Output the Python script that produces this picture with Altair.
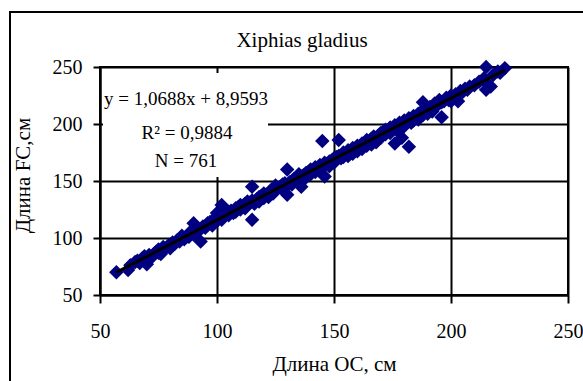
import altair as alt
import pandas as pd

# Swordfish body lengths: orbit-caudal (OC) vs fork length (FC), cm
oc = [
    57, 62, 63, 65, 66, 67, 68, 69, 70, 70,
    71, 72, 73, 74, 75, 75, 76, 77, 78, 79,
    80, 80, 81, 82, 83, 84, 85, 85, 86, 87,
    88, 88, 89, 90, 90, 91, 92, 93, 93, 94,
    95, 96, 96, 97, 98, 99, 100, 100, 101, 102,
    102, 103, 104, 105, 105, 106, 107, 108, 108, 109,
    110, 110, 111, 112, 112, 113, 114, 115, 115, 115,
    116, 117, 118, 118, 119, 120, 120, 121, 122, 122,
    123, 124, 124, 125, 125, 126, 127, 128, 128, 129,
    130, 130, 130, 131, 132, 132, 133, 134, 135, 135,
    136, 136, 137, 138, 138, 139, 140, 140, 141, 142,
    142, 143, 144, 144, 145, 145, 146, 146, 147, 148,
    148, 149, 150, 150, 151, 152, 152, 153, 154, 154,
    155, 156, 156, 157, 158, 158, 159, 160, 160, 161,
    162, 162, 163, 164, 164, 165, 166, 166, 167, 168,
    168, 169, 170, 170, 171, 172, 172, 173, 174, 174,
    175, 176, 176, 177, 177, 178, 179, 179, 180, 180,
    181, 182, 182, 183, 184, 184, 185, 186, 186, 187,
    188, 188, 189, 190, 190, 191, 192, 193, 194, 195,
    196, 196, 197, 198, 199, 200, 200, 201, 202, 203,
    204, 205, 206, 207, 208, 210, 212, 214, 215, 215,
    216, 217, 218, 220, 221, 223,
]
fc = [
    70, 72, 76, 79, 80, 78, 82, 84, 77, 81,
    85, 83, 86, 88, 90, 87, 86, 92, 91, 93,
    94, 91, 96, 95, 98, 97, 100, 102, 99, 101,
    104, 101, 106, 113, 103, 107, 106, 97, 108, 110,
    109, 112, 113, 114, 111, 117, 115, 122, 118, 129,
    116, 119, 121, 120, 123, 124, 122, 126, 123, 127,
    125, 129, 128, 130, 126, 132, 131, 145, 116, 133,
    130, 134, 136, 132, 137, 139, 135, 138, 140, 136,
    141, 143, 139, 142, 146, 144, 145, 143, 147, 148,
    160, 146, 138, 149, 150, 147, 152, 151, 153, 156,
    145, 154, 155, 157, 153, 158, 160, 156, 159, 162,
    158, 161, 164, 160, 185, 163, 154, 166, 165, 167,
    163, 168, 170, 166, 171, 186, 172, 170, 175, 171,
    174, 177, 172, 176, 179, 174, 178, 181, 176, 180,
    183, 178, 182, 186, 181, 185, 187, 182, 189, 187,
    184, 190, 192, 188, 193, 191, 195, 194, 197, 192,
    196, 183, 199, 198, 194, 201, 188, 200, 203, 198,
    202, 180, 205, 201, 207, 203, 206, 209, 204, 210,
    219, 208, 212, 214, 209, 215, 211, 218, 216, 221,
    206, 219, 220, 223, 221, 225, 220, 224, 226, 220,
    229, 228, 231, 230, 233, 234, 237, 240, 250, 230,
    234, 233, 243, 246, 245, 249,
]

# Fitted relationship and sample statistics
slope = 1.0688
intercept = 8.9593
r_squared = 0.9884
n_fish = 761

x_ticks = [50, 100, 150, 200, 250]
y_ticks = [50, 100, 150, 200, 250]

FONT = "Liberation Serif"
NAVY = "#000080"

points = pd.DataFrame({"oc": oc, "fc": fc})
fit = pd.DataFrame({"oc": [min(oc), max(oc)]})
one = pd.DataFrame({"k": [0]})


def comma(v):
    return f"{v:.4f}".replace(".", ",")


eq_text = f"y = {comma(slope)}x + {comma(intercept)}"
r2_text = f"R\u00b2 = {comma(r_squared)}"
n_text = f"N = {n_fish}"

x_scale = alt.Scale(domain=[50, 250], nice=False, zero=False)
y_scale = alt.Scale(domain=[50, 250], nice=False, zero=False)

x_axis = alt.Axis(
    values=x_ticks, title="Длина OC, см", grid=True, gridColor="black",
    gridWidth=2, gridOpacity=1, domainColor="black", domainWidth=2,
    tickColor="black", tickWidth=2, tickSize=8, labelFont=FONT,
    labelFontSize=20, labelColor="black", labelBaseline="alphabetic",
    labelPadding=34, labelFlush=False, titleFont=FONT, titleFontSize=21,
    titleFontWeight="normal", titleColor="black", titleY=75,
    titleBaseline="alphabetic",
)
y_axis = alt.Axis(
    values=y_ticks, title="Длина FC,см", grid=True, gridColor="black",
    gridWidth=2, gridOpacity=1, domainColor="black", domainWidth=2,
    tickColor="black", tickWidth=2, tickSize=7, labelFont=FONT,
    labelFontSize=20, labelColor="black", labelPadding=11, labelFlush=False,
    titleFont=FONT, titleFontSize=21, titleFontWeight="normal",
    titleColor="black", titleAngle=270, titleX=-71, titleY=108,
    titleBaseline="alphabetic", titleAlign="center",
)

# Outer chart border: only the top and left edges fall inside the page
border_top = alt.Chart(one).mark_rule(color="black", strokeWidth=2).encode(
    x=alt.value(-91), x2=alt.value(483), y=alt.value(-55)
)
border_left = alt.Chart(one).mark_rule(color="black", strokeWidth=2).encode(
    x=alt.value(-90), y=alt.value(-56), y2=alt.value(314)
)

scatter = alt.Chart(points).mark_point(
    shape="diamond", filled=True, size=210, color=NAVY, opacity=1
).encode(
    x=alt.X("oc:Q", scale=x_scale, axis=x_axis),
    y=alt.Y("fc:Q", scale=y_scale, axis=y_axis),
)

trend = alt.Chart(fit).transform_calculate(
    fc=f"{slope} * datum.oc + {intercept}"
).mark_line(color="black", strokeWidth=3).encode(
    x=alt.X("oc:Q", scale=x_scale),
    y=alt.Y("fc:Q", scale=y_scale),
)

label_box = alt.Chart(one).mark_rect(fill="white").encode(
    x=alt.value(3), x2=alt.value(168), y=alt.value(6), y2=alt.value(110)
)


def label(text, px, py, size):
    return alt.Chart(one).mark_text(
        text=text, font=FONT, fontSize=size, color="black",
        align="center", baseline="alphabetic",
    ).encode(x=alt.value(px), y=alt.value(py))


chart = alt.layer(
    border_top,
    border_left,
    scatter,
    trend,
    label_box,
    label(eq_text, 86, 38, 19),
    label(r2_text, 87, 72, 19),
    label(n_text, 86, 100, 19),
    label("Xiphias gladius", 202, -20, 21),
).properties(
    width=468,
    height=228,
    autosize=alt.AutoSizeParams(type="none"),
    padding={"left": 100, "top": 67, "right": 15, "bottom": 86},
    background="white",
).configure_view(stroke="black", strokeWidth=2)

chart.save("out.html", embed_options={"renderer": "svg", "actions": False})
